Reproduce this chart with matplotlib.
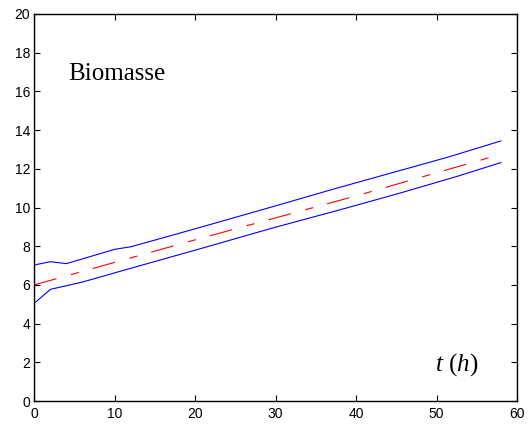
import numpy as np
import matplotlib.pyplot as plt

# Biomasse: upper / lower bound and mean estimate over time (h)
t_upper = [0, 2, 4, 10, 12, 20, 29.7, 37.6, 44.5, 51.4, 58]
y_upper = [7.03, 7.2, 7.1, 7.84, 7.97, 8.9, 10.05, 11.0, 11.8, 12.6, 13.44]

t_lower = [0, 2, 6, 12, 20.8, 29.7, 38.6, 45.5, 52.4, 58]
y_lower = [5.05, 5.77, 6.15, 6.86, 7.89, 8.95, 9.95, 10.75, 11.59, 12.32]

t_mean = [0, 20, 40, 58]
y_mean = [6.0, 8.33, 10.6, 12.75]

plt.rcParams['font.family'] = ['Liberation Sans', 'DejaVu Sans']
plt.rcParams['mathtext.fontset'] = 'custom'
plt.rcParams['mathtext.rm'] = 'Liberation Serif'
plt.rcParams['mathtext.it'] = 'Liberation Serif:italic'

fig = plt.figure(figsize=(5.29, 4.24), dpi=100)
ax = fig.add_axes([0.0648, 0.0542, 0.9125, 0.9128])

ax.plot(t_upper, y_upper, color='#0000ff', lw=0.8)
ax.plot(t_lower, y_lower, color='#0000ff', lw=0.8)
ax.plot(t_mean, y_mean, color='#ff0000', lw=0.8, linestyle=(0, (20.7, 13.5, 7.5, 13)))

ax.set_xlim(0, 60)
ax.set_ylim(0, 20)
ax.set_xticks(np.arange(0, 61, 10))
ax.set_yticks(np.arange(0, 21, 2))
ax.tick_params(direction='in', length=4, width=0.8, top=True, right=True,
               labelsize=10, colors='black')
ax.tick_params(axis='y', pad=3)
ax.tick_params(axis='x', pad=4)
for s in ax.spines.values():
    s.set_linewidth(1.0)

ax.text(4.2, 16.6, 'Biomasse', family='Liberation Serif', fontsize=18)
ax.text(49.8, 1.55, '$t$ ($h$)', family='Liberation Serif', fontsize=18)

fig.savefig('out.png', dpi=100)
